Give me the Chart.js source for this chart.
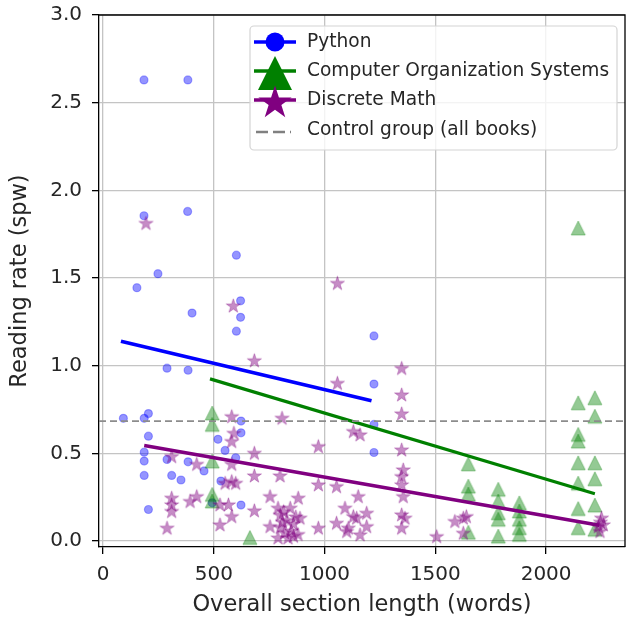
<!DOCTYPE html>
<html>
<head>
<meta charset="utf-8">
<script src="https://cdn.jsdelivr.net/npm/chart.js@4/dist/chart.umd.min.js"></script>
<style>
  html, body { margin: 0; padding: 0; background: #ffffff; }
  #wrap { width: 626px; height: 626px; }
</style>
</head>
<body>
<div id="wrap"><canvas id="chart" width="626" height="626"></canvas></div>
<script>
// ---- data -------------------------------------------------------------
const seriesNames = ['Python', 'Computer Organization Systems', 'Discrete Math'];
const controlLabel = 'Control group (all books)';

// Python sections: length (words) and reading rate (seconds per word)
const pythonX = [185, 383, 185, 382, 602, 248, 153, 621, 402, 621, 602, 289, 384, 1223, 1223, 1223, 1223, 92, 186, 205,
                 205, 186, 186, 186, 205, 289, 310, 352, 384, 456, 519, 551, 532, 493, 599, 623, 623, 623];
const pythonY = [2.63, 2.63, 1.855, 1.88, 1.63, 1.525, 1.445, 1.37, 1.30, 1.276, 1.197, 0.986, 0.974, 1.17, 0.895, 0.665, 0.505, 0.70, 0.70, 0.727,
                 0.598, 0.507, 0.456, 0.374, 0.18, 0.465, 0.374, 0.348, 0.452, 0.40, 0.58, 0.517, 0.342, 0.218, 0.475, 0.684, 0.617, 0.205];

// Computer Organization Systems sections
const cosX = [493, 493, 493, 493, 493, 663, 1649, 1649, 1649, 1649, 1784, 1784, 1784, 1784, 1784, 1879, 1879, 1879, 1879, 1879,
              2145, 2145, 2145, 2145, 2145, 2145, 2145, 2145, 2220, 2220, 2220, 2220, 2220, 2220];
const cosY = [0.73, 0.665, 0.456, 0.266, 0.228, 0.02, 0.44, 0.313, 0.268, 0.05, 0.295, 0.228, 0.161, 0.124, 0.028, 0.218, 0.171, 0.124, 0.076, 0.038,
              1.785, 0.788, 0.608, 0.57, 0.446, 0.33, 0.185, 0.076, 0.817, 0.712, 0.446, 0.355, 0.205, 0.067];

// Discrete Math sections
const dmX = [194, 588, 683, 1058, 1058, 1348, 1348, 1348, 808, 581,
             591, 581, 683, 423, 310, 581, 683, 799, 551, 599,
             310, 310, 310, 289, 393, 423, 528, 528, 581, 683,
             754, 754, 881, 972, 1130, 1160, 972, 1054, 1152, 972,
             1054, 1092, 1107, 1145, 1160, 1348, 1355, 1348, 1348, 1355,
             1348, 1363, 1348, 1130, 1190, 1100, 1190, 1506, 1588, 1626,
             1626, 1640, 889, 2258, 2250, 2243, 2235, 2245, 790, 800,
             815, 830, 845, 860, 800, 820, 850, 870, 880, 810,
             835, 860, 790, 566, 581];
const dmY = [1.814, 1.343, 1.031, 1.472, 0.902, 0.987, 0.836, 0.728, 0.703, 0.712,
             0.617, 0.57, 0.503, 0.44, 0.484, 0.44, 0.374, 0.374, 0.332, 0.332,
             0.247, 0.209, 0.171, 0.076, 0.228, 0.256, 0.209, 0.095, 0.142, 0.175,
             0.256, 0.085, 0.247, 0.541, 0.627, 0.608, 0.323, 0.313, 0.256, 0.076,
             0.104, 0.19, 0.076, 0.133, 0.038, 0.522, 0.408, 0.37, 0.323, 0.256,
             0.152, 0.133, 0.076, 0.142, 0.161, 0.057, 0.085, 0.028, 0.114, 0.133,
             0.047, 0.142, 0.133, 0.095, 0.133, 0.057, 0.085, 0.11, 0.19, 0.15,
             0.17, 0.12, 0.19, 0.1, 0.08, 0.05, 0.06, 0.14, 0.04, 0.11,
             0.02, 0.03, 0.02, 0.209, 0.342];

// Least-squares trend lines (end points) and the control-group mean
const pythonFitX = [81, 1212];
const pythonFitY = [1.14, 0.80];
const cosFitX = [483, 2220];
const cosFitY = [0.925, 0.27];
const dmFitX = [186, 2240];
const dmFitY = [0.545, 0.09];
const controlRate = 0.684;

// Axis ranges and ticks
const xRange = [-18, 2356];
const yRange = [-0.034, 3.0];
const xTicks = [0, 500, 1000, 1500, 2000];
const yTicks = [0, 0.5, 1.0, 1.5, 2.0, 2.5, 3.0];

// ---- styling ------------------------------------------------------------
const FONT = '"DejaVu Sans", sans-serif';
const BLUE = '#0000ff', GREEN = '#008000', PURPLE = '#800080';
const TEXT = '#262626';

function pts(xs, ys) { return xs.map((x, i) => ({ x: x, y: ys[i] })); }

function starPath(g, cx, cy, R, r) {
  g.beginPath();
  for (let i = 0; i < 10; i++) {
    const a = -Math.PI / 2 + i * Math.PI / 5;
    const rad = (i % 2) ? r : R;
    const px = cx + Math.cos(a) * rad, py = cy + Math.sin(a) * rad;
    if (i === 0) g.moveTo(px, py); else g.lineTo(px, py);
  }
  g.closePath();
}
function trianglePath(g, cx, cy, h) {
  g.beginPath();
  g.moveTo(cx, cy - h);
  g.lineTo(cx - h, cy + h);
  g.lineTo(cx + h, cy + h);
  g.closePath();
}
function markerCanvas(kind, size, fill, stroke) {
  const s = Math.ceil(size * 2 + 4);
  const c = document.createElement('canvas');
  c.width = s; c.height = s;
  const g = c.getContext('2d');
  if (kind === 'star') starPath(g, s / 2, s / 2 + size * 0.0955, size, size * 0.382);
  else trianglePath(g, s / 2, s / 2, size);
  g.fillStyle = fill; g.fill();
  g.lineWidth = 1; g.strokeStyle = stroke; g.stroke();
  return c;
}

const triMarker = markerCanvas('tri', 7, 'rgba(0,128,0,0.42)', 'rgba(0,128,0,0.35)');
const starMarker = markerCanvas('star', 7.4, 'rgba(128,0,128,0.45)', 'rgba(128,0,128,0.35)');

// keep the plot area exactly where the layout padding puts it
function noScalePadding(s) { s.paddingTop = 0; s.paddingBottom = 0; s.paddingLeft = 0; s.paddingRight = 0; }

// ---- plugins --------------------------------------------------------------
// top and right spines
const framePlugin = {
  id: 'frame',
  afterDatasetsDraw(chart) {
    const { ctx, chartArea: a } = chart;
    ctx.save();
    ctx.strokeStyle = '#000';
    ctx.lineWidth = 1.3;
    ctx.beginPath();
    ctx.moveTo(a.left, a.top); ctx.lineTo(a.right, a.top); ctx.lineTo(a.right, a.bottom);
    ctx.stroke();
    ctx.restore();
  }
};

// boxed legend with line-through markers in the upper right of the plot
const legendPlugin = {
  id: 'boxLegend',
  afterDraw(chart) {
    const { ctx, chartArea: a } = chart;
    const right = a.right - 8, top = a.top + 11, w = 367, h = 124;
    const left = right - w;
    ctx.save();
    ctx.beginPath();
    ctx.roundRect(left, top, w, h, 4);
    ctx.fillStyle = 'rgba(255,255,255,0.8)';
    ctx.fill();
    ctx.strokeStyle = '#d4d4d4';
    ctx.lineWidth = 1.2;
    ctx.stroke();

    const mx = left + 25, lx0 = left + 4, lx1 = left + 46, tx = left + 57;
    const rows = [top + 16, top + 45, top + 74, top + 104];
    ctx.lineCap = 'butt';
    // Python
    ctx.strokeStyle = BLUE; ctx.lineWidth = 3.5;
    ctx.beginPath(); ctx.moveTo(lx0, rows[0]); ctx.lineTo(lx1, rows[0]); ctx.stroke();
    ctx.fillStyle = BLUE;
    ctx.beginPath(); ctx.arc(mx, rows[0], 9.5, 0, Math.PI * 2); ctx.fill();
    // Computer Organization Systems
    ctx.strokeStyle = GREEN;
    ctx.beginPath(); ctx.moveTo(lx0, rows[1]); ctx.lineTo(lx1, rows[1]); ctx.stroke();
    ctx.fillStyle = GREEN;
    trianglePath(ctx, mx, rows[1] + 2, 17); ctx.fill();
    // Discrete Math
    ctx.strokeStyle = PURPLE;
    ctx.beginPath(); ctx.moveTo(lx0, rows[2]); ctx.lineTo(lx1, rows[2]); ctx.stroke();
    ctx.fillStyle = PURPLE;
    starPath(ctx, mx, rows[2] + 3, 17.5, 17.5 * 0.382); ctx.fill();
    // Control group
    ctx.strokeStyle = '#808080'; ctx.lineWidth = 2.5;
    ctx.setLineDash([12, 5]);
    ctx.beginPath(); ctx.moveTo(lx0 + 2, rows[3] + 2); ctx.lineTo(lx1 - 5, rows[3] + 2); ctx.stroke();
    ctx.setLineDash([]);

    ctx.fillStyle = TEXT;
    ctx.font = '18.6px ' + FONT;
    ctx.textBaseline = 'middle';
    ctx.textAlign = 'left';
    const labels = seriesNames.concat([controlLabel]);
    labels.forEach((t, i) => ctx.fillText(t, tx, rows[i]));
    ctx.restore();
  }
};

// ---- chart ----------------------------------------------------------------
const lineDefaults = { type: 'line', showLine: true, pointRadius: 0, pointHoverRadius: 0, fill: false, tension: 0 };

new Chart(document.getElementById('chart'), {
  type: 'scatter',
  data: {
    datasets: [
      Object.assign({}, lineDefaults, { label: controlLabel, order: 0,
        data: pts(xRange, [controlRate, controlRate]),
        borderColor: '#8c8c8c', borderWidth: 1.6, borderDash: [7, 4] }),
      Object.assign({}, lineDefaults, { label: seriesNames[0] + ' fit', order: 0,
        data: pts(pythonFitX, pythonFitY), borderColor: BLUE, borderWidth: 3.6 }),
      Object.assign({}, lineDefaults, { label: seriesNames[1] + ' fit', order: 0,
        data: pts(cosFitX, cosFitY), borderColor: GREEN, borderWidth: 3.2 }),
      Object.assign({}, lineDefaults, { label: seriesNames[2] + ' fit', order: 0,
        data: pts(dmFitX, dmFitY), borderColor: PURPLE, borderWidth: 3.6 }),
      { label: seriesNames[2], order: 1, data: pts(dmX, dmY),
        pointStyle: starMarker, pointRadius: 8, pointHoverRadius: 8 },
      { label: seriesNames[1], order: 2, data: pts(cosX, cosY),
        pointStyle: triMarker, pointRadius: 8, pointHoverRadius: 8 },
      { label: seriesNames[0], order: 3, data: pts(pythonX, pythonY),
        pointStyle: 'circle', pointRadius: 4, pointHoverRadius: 4,
        backgroundColor: 'rgba(0,0,255,0.42)', borderColor: 'rgba(0,0,255,0.3)', borderWidth: 1.2 }
    ]
  },
  options: {
    responsive: false,
    animation: false,
    devicePixelRatio: 1,
    layout: { autoPadding: false, padding: { top: 15, right: 1, left: 0, bottom: 0 } },
    plugins: { legend: { display: false }, tooltip: { enabled: false } },
    scales: {
      x: {
        type: 'linear', min: xRange[0], max: xRange[1],
        afterBuildTicks: s => { s.ticks = xTicks.map(v => ({ value: v })); },
        afterFit: s => { s.height = 79; noScalePadding(s); },
        ticks: { callback: v => String(v), color: TEXT, font: { family: FONT, size: 20 }, padding: 9, maxRotation: 0 },
        grid: { color: '#c4c4c4', lineWidth: 1.3, tickColor: '#000', tickLength: 7, drawTicks: true },
        border: { display: true, color: '#000', width: 1.3 },
        title: { display: true, text: 'Overall section length (words)', color: TEXT,
                 font: { family: FONT, size: 22.5 }, padding: { top: 0, bottom: 7 } }
      },
      y: {
        type: 'linear', min: yRange[0], max: yRange[1],
        afterBuildTicks: s => { s.ticks = yTicks.map(v => ({ value: v })); },
        afterFit: s => { s.width = 99; noScalePadding(s); },
        ticks: { callback: v => Number(v).toFixed(1), color: TEXT, font: { family: FONT, size: 20 }, padding: 10 },
        grid: { color: '#c4c4c4', lineWidth: 1.3, tickColor: '#000', tickLength: 7, drawTicks: true },
        border: { display: true, color: '#000', width: 1.3 },
        title: { display: true, text: 'Reading rate (spw)', color: TEXT,
                 font: { family: FONT, size: 22.5 }, padding: { top: 7, bottom: 0 } }
      }
    }
  },
  plugins: [framePlugin, legendPlugin]
});
</script>
</body>
</html>
